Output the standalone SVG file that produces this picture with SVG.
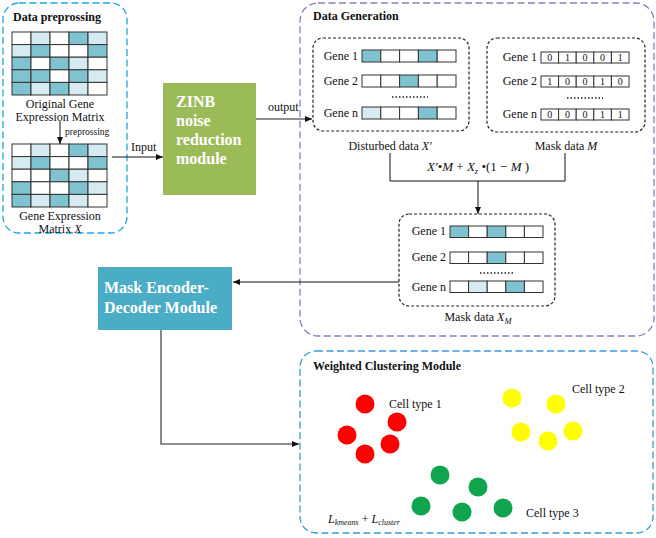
<svg xmlns="http://www.w3.org/2000/svg" width="656" height="538" viewBox="0 0 656 538">
<style>
text{font-family:"Liberation Serif","Times New Roman",serif;fill:#111}
.t{font-size:12px}
.b{font-weight:bold;font-size:12px}
.w{font-weight:bold;font-size:16px;fill:#fff}
.c{stroke:#333;stroke-width:1}
.W{fill:#fff}.D{fill:#7fc3d1}.L{fill:#d5ebf1}
.blue{fill:none;stroke:#1fa6e3;stroke-width:1.3;stroke-dasharray:7 3.5}
.blue2{fill:none;stroke:#3d98dc;stroke-width:1.3;stroke-dasharray:7 3.5}
.purp{fill:none;stroke:#8c7dbf;stroke-width:1.3;stroke-dasharray:7 3.5}
.blk{fill:none;stroke:#222;stroke-width:1.2;stroke-dasharray:3 2}
.ln{fill:none;stroke:#111;stroke-width:1}
.gl{fill:none;stroke:#6b6b6b;stroke-width:1.6}
.dots{stroke:#222;stroke-width:1.3;stroke-dasharray:1.5 2}
.n{font-size:10px;text-anchor:middle}
</style>
<defs>
<marker id="ar" markerWidth="8" markerHeight="8" refX="7" refY="4" orient="auto" markerUnits="userSpaceOnUse">
<path d="M0,1 L7,4 L0,7 Z" fill="#111"/>
</marker>
</defs>

<g id="preprocessing">
<rect class="blue" x="3" y="3" width="124" height="230" rx="16"/>
<text class="b" x="13" y="21">Data preprossing</text>
<g class="c">
<rect class="W" x="12" y="32" width="19" height="12.6"/><rect class="L" x="31" y="32" width="19" height="12.6"/><rect class="W" x="50" y="32" width="19" height="12.6"/><rect class="D" x="69" y="32" width="19" height="12.6"/><rect class="L" x="88" y="32" width="19" height="12.6"/>
<rect class="L" x="12" y="44.6" width="19" height="12.6"/><rect class="D" x="31" y="44.6" width="19" height="12.6"/><rect class="W" x="50" y="44.6" width="19" height="12.6"/><rect class="W" x="69" y="44.6" width="19" height="12.6"/><rect class="D" x="88" y="44.6" width="19" height="12.6"/>
<rect class="D" x="12" y="57.2" width="19" height="12.6"/><rect class="W" x="31" y="57.2" width="19" height="12.6"/><rect class="D" x="50" y="57.2" width="19" height="12.6"/><rect class="L" x="69" y="57.2" width="19" height="12.6"/><rect class="W" x="88" y="57.2" width="19" height="12.6"/>
<rect class="D" x="12" y="69.8" width="19" height="12.6"/><rect class="D" x="31" y="69.8" width="19" height="12.6"/><rect class="W" x="50" y="69.8" width="19" height="12.6"/><rect class="D" x="69" y="69.8" width="19" height="12.6"/><rect class="L" x="88" y="69.8" width="19" height="12.6"/>
<rect class="D" x="12" y="82.4" width="19" height="12.6"/><rect class="L" x="31" y="82.4" width="19" height="12.6"/><rect class="D" x="50" y="82.4" width="19" height="12.6"/><rect class="L" x="69" y="82.4" width="19" height="12.6"/><rect class="W" x="88" y="82.4" width="19" height="12.6"/>
</g>
<text class="t" x="60" y="108" text-anchor="middle">Original Gene</text>
<text class="t" x="60" y="121" text-anchor="middle">Expression Matrix</text>
<text x="65" y="135" font-size="9.5">preprossing</text>
<g class="c">
<rect class="W" x="12" y="144" width="19" height="12.6"/><rect class="L" x="31" y="144" width="19" height="12.6"/><rect class="W" x="50" y="144" width="19" height="12.6"/><rect class="D" x="69" y="144" width="19" height="12.6"/><rect class="L" x="88" y="144" width="19" height="12.6"/>
<rect class="L" x="12" y="156.6" width="19" height="12.6"/><rect class="D" x="31" y="156.6" width="19" height="12.6"/><rect class="W" x="50" y="156.6" width="19" height="12.6"/><rect class="W" x="69" y="156.6" width="19" height="12.6"/><rect class="D" x="88" y="156.6" width="19" height="12.6"/>
<rect class="W" x="12" y="169.2" width="19" height="12.6"/><rect class="W" x="31" y="169.2" width="19" height="12.6"/><rect class="D" x="50" y="169.2" width="19" height="12.6"/><rect class="L" x="69" y="169.2" width="19" height="12.6"/><rect class="W" x="88" y="169.2" width="19" height="12.6"/>
<rect class="D" x="12" y="181.8" width="19" height="12.6"/><rect class="W" x="31" y="181.8" width="19" height="12.6"/><rect class="W" x="50" y="181.8" width="19" height="12.6"/><rect class="D" x="69" y="181.8" width="19" height="12.6"/><rect class="L" x="88" y="181.8" width="19" height="12.6"/>
<rect class="D" x="12" y="194.4" width="19" height="12.6"/><rect class="L" x="31" y="194.4" width="19" height="12.6"/><rect class="D" x="50" y="194.4" width="19" height="12.6"/><rect class="L" x="69" y="194.4" width="19" height="12.6"/><rect class="W" x="88" y="194.4" width="19" height="12.6"/>
</g>
<text class="t" x="60" y="220" text-anchor="middle">Gene Expression</text>
<text class="t" x="60" y="233" text-anchor="middle">Matrix <tspan font-style="italic">X</tspan></text>
</g>

<g id="zinb">
<rect x="163" y="83" width="93" height="112" fill="#9bbb59"/>
<text class="w" x="176" y="107">ZINB</text>
<text class="w" x="176" y="126">noise</text>
<text class="w" x="176" y="145">reduction</text>
<text class="w" x="176" y="164">module</text>
</g>

<g id="data-generation">
<rect class="purp" x="300" y="3" width="354" height="333" rx="18"/>
<text class="b" x="313" y="20">Data Generation</text>
</g>

<g id="disturbed">
<rect class="blk" x="313" y="38" width="156" height="93" rx="10"/>
<text class="t" x="358" y="60" text-anchor="end">Gene 1</text>
<text class="t" x="358" y="85" text-anchor="end">Gene 2</text>
<text class="t" x="358" y="117" text-anchor="end">Gene n</text>
<g class="c">
<rect class="D" x="362" y="50" width="18.8" height="12"/><rect class="W" x="380.8" y="50" width="18.8" height="12"/><rect class="W" x="399.6" y="50" width="18.8" height="12"/><rect class="D" x="418.4" y="50" width="18.8" height="12"/><rect class="W" x="437.2" y="50" width="18.8" height="12"/>
<rect class="W" x="362" y="75" width="18.8" height="12"/><rect class="W" x="380.8" y="75" width="18.8" height="12"/><rect class="D" x="399.6" y="75" width="18.8" height="12"/><rect class="W" x="418.4" y="75" width="18.8" height="12"/><rect class="W" x="437.2" y="75" width="18.8" height="12"/>
<rect class="L" x="362" y="107" width="18.8" height="12"/><rect class="W" x="380.8" y="107" width="18.8" height="12"/><rect class="W" x="399.6" y="107" width="18.8" height="12"/><rect class="D" x="418.4" y="107" width="18.8" height="12"/><rect class="W" x="437.2" y="107" width="18.8" height="12"/>
</g>
<line class="dots" x1="392" y1="97" x2="428" y2="97"/>
<text class="t" x="390" y="150" text-anchor="middle">Disturbed data <tspan font-style="italic">X'</tspan></text>
</g>

<g id="mask">
<rect class="blk" x="487" y="38" width="158" height="94" rx="10"/>
<text class="t" x="537" y="61" text-anchor="end">Gene 1</text>
<text class="t" x="537" y="85" text-anchor="end">Gene 2</text>
<text class="t" x="537" y="118" text-anchor="end">Gene n</text>
<g class="c" fill="#fff">
<rect x="541" y="52" width="17.6" height="11"/><rect x="558.6" y="52" width="17.6" height="11"/><rect x="576.2" y="52" width="17.6" height="11"/><rect x="593.8" y="52" width="17.6" height="11"/><rect x="611.4" y="52" width="17.6" height="11"/>
<rect x="541" y="76" width="17.6" height="11"/><rect x="558.6" y="76" width="17.6" height="11"/><rect x="576.2" y="76" width="17.6" height="11"/><rect x="593.8" y="76" width="17.6" height="11"/><rect x="611.4" y="76" width="17.6" height="11"/>
<rect x="541" y="109" width="17.6" height="11"/><rect x="558.6" y="109" width="17.6" height="11"/><rect x="576.2" y="109" width="17.6" height="11"/><rect x="593.8" y="109" width="17.6" height="11"/><rect x="611.4" y="109" width="17.6" height="11"/>
</g>
<text class="n" x="549.8" y="61">0</text><text class="n" x="567.4" y="61">1</text><text class="n" x="585" y="61">0</text><text class="n" x="602.6" y="61">0</text><text class="n" x="620.2" y="61">1</text>
<text class="n" x="549.8" y="85">1</text><text class="n" x="567.4" y="85">0</text><text class="n" x="585" y="85">0</text><text class="n" x="602.6" y="85">1</text><text class="n" x="620.2" y="85">0</text>
<text class="n" x="549.8" y="118">0</text><text class="n" x="567.4" y="118">0</text><text class="n" x="585" y="118">0</text><text class="n" x="602.6" y="118">1</text><text class="n" x="620.2" y="118">1</text>
<line class="dots" x1="567" y1="98" x2="603" y2="98"/>
<text class="t" x="566" y="150" text-anchor="middle">Mask data <tspan font-style="italic">M</tspan></text>
</g>

<g id="masked">
<rect class="blk" x="399" y="214" width="156" height="92" rx="10"/>
<text class="t" x="446" y="235" text-anchor="end">Gene 1</text>
<text class="t" x="446" y="261" text-anchor="end">Gene 2</text>
<text class="t" x="446" y="291" text-anchor="end">Gene n</text>
<g class="c">
<rect class="D" x="450" y="226" width="18.6" height="11.5"/><rect class="W" x="468.6" y="226" width="18.6" height="11.5"/><rect class="D" x="487.2" y="226" width="18.6" height="11.5"/><rect class="W" x="505.8" y="226" width="18.6" height="11.5"/><rect class="W" x="524.4" y="226" width="18.6" height="11.5"/>
<rect class="W" x="450" y="252" width="18.6" height="11.5"/><rect class="W" x="468.6" y="252" width="18.6" height="11.5"/><rect class="D" x="487.2" y="252" width="18.6" height="11.5"/><rect class="W" x="505.8" y="252" width="18.6" height="11.5"/><rect class="W" x="524.4" y="252" width="18.6" height="11.5"/>
<rect class="W" x="450" y="281" width="18.6" height="11.5"/><rect class="L" x="468.6" y="281" width="18.6" height="11.5"/><rect class="W" x="487.2" y="281" width="18.6" height="11.5"/><rect class="D" x="505.8" y="281" width="18.6" height="11.5"/><rect class="W" x="524.4" y="281" width="18.6" height="11.5"/>
</g>
<line class="dots" x1="480" y1="273" x2="515" y2="273"/>
<text class="t" x="478" y="321" text-anchor="middle">Mask data <tspan font-style="italic">X</tspan><tspan font-style="italic" font-size="8.5" dy="3">M</tspan></text>
</g>

<g id="encoder">
<rect x="98" y="267" width="134" height="63" fill="#4bacc6"/>
<text class="w" x="104" y="293">Mask Encoder-</text>
<text class="w" x="104" y="313">Decoder Module</text>
</g>

<g id="clustering">
<rect class="blue2" x="300" y="351" width="353" height="182" rx="16"/>
<text class="b" x="313" y="370" font-size="12.5">Weighted Clustering Module</text>
<g fill="#ff0000">
<circle cx="365" cy="404" r="9.5"/><circle cx="397" cy="422" r="9.5"/><circle cx="347" cy="435" r="9.5"/><circle cx="390" cy="444" r="9.5"/><circle cx="365" cy="454" r="9.5"/>
</g>
<g fill="#ffff00">
<circle cx="512" cy="398" r="9.5"/><circle cx="556" cy="404" r="9.5"/><circle cx="521" cy="432" r="9.5"/><circle cx="573" cy="431" r="9.5"/><circle cx="548" cy="441" r="9.5"/>
</g>
<g fill="#0ea54c">
<circle cx="440" cy="475" r="9.5"/><circle cx="478" cy="487" r="9.5"/><circle cx="421" cy="506" r="9.5"/><circle cx="462" cy="512" r="9.5"/><circle cx="503" cy="508" r="9.5"/>
</g>
<text class="t" x="389" y="408">Cell type 1</text>
<text class="t" x="572" y="393">Cell type 2</text>
<text class="t" x="526" y="517">Cell type 3</text>
<text class="t" x="328" y="523"><tspan font-style="italic">L</tspan><tspan font-style="italic" font-size="8" dy="2">kmeans</tspan><tspan dy="-2"> + </tspan><tspan font-style="italic">L</tspan><tspan font-style="italic" font-size="8" dy="2">cluster</tspan></text>
</g>

<g id="connectors">
<line class="ln" x1="60" y1="121" x2="60" y2="144" marker-end="url(#ar)"/>
<line class="ln" x1="112" y1="157" x2="163" y2="157" marker-end="url(#ar)"/>
<text class="t" x="131" y="151">Input</text>
<line class="gl" x1="256" y1="119" x2="312" y2="119" marker-end="url(#ar)"/>
<text class="t" x="268" y="111">output</text>
<path class="ln" d="M390,153 V181 H565 V153"/>
<line class="ln" x1="478" y1="181" x2="478" y2="214" marker-end="url(#ar)"/>
<text x="478" y="171" font-size="13" text-anchor="middle"><tspan font-style="italic">X'</tspan>•<tspan font-style="italic">M</tspan> + <tspan font-style="italic">X</tspan><tspan font-style="italic" font-size="8.5" dy="3">z</tspan><tspan dy="-3"> •(1 − </tspan><tspan font-style="italic">M</tspan> )</text>
<line class="ln" x1="399" y1="282" x2="233" y2="282" marker-end="url(#ar)"/>
<path class="gl" d="M161,330 V444 H299" marker-end="url(#ar)"/>
</g>
</svg>
